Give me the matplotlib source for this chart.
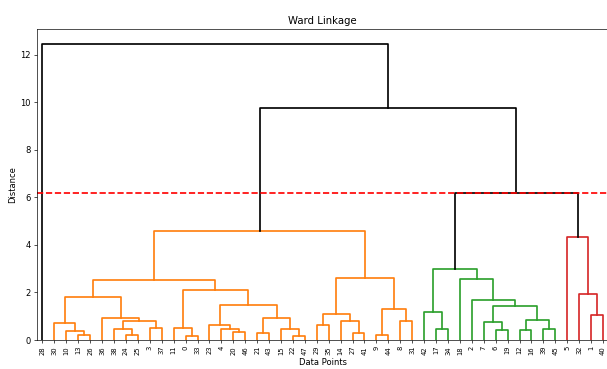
import numpy as np
import matplotlib
matplotlib.use('Agg')
import matplotlib.pyplot as plt

# Leaf labels, left to right as they appear under the dendrogram
LEAF_ORDER = [28, 30, 10, 13, 26, 36, 38, 24, 25, 3, 37, 11, 0, 33, 23, 4,
              20, 46, 21, 43, 15, 22, 47, 29, 35, 14, 27, 41, 9, 44, 8, 31,
              42, 17, 34, 18, 2, 7, 6, 19, 12, 16, 39, 45, 5, 32, 1, 40]

# Linkage table (scipy style): ids < 48 are leaves, id 48 + k is merge k
MERGE_LEFT = [0, 22, 13, 24, 9, 21, 27, 20, 10, 6, 12, 17, 39, 15, 38, 4,
              3, 11, 23, 29, 30, 7, 14, 8, 62, 58, 36, 53, 1, 67, 42, 52,
              69, 66, 2, 68, 32, 65, 83, 18, 77, 78, 5, 86, 89, 91, 28]
MERGE_RIGHT = [33, 47, 26, 25, 44, 43, 41, 46, 50, 19, 16, 34, 45, 49, 51, 55,
               37, 48, 63, 35, 56, 57, 54, 31, 64, 60, 72, 61, 40, 70, 59, 71,
               73, 75, 80, 74, 76, 81, 85, 82, 79, 87, 84, 88, 90, 92, 93]
MERGE_HEIGHT = [0.17, 0.17, 0.20, 0.21, 0.23, 0.31, 0.31, 0.35, 0.38, 0.42,
                0.42, 0.46, 0.46, 0.45, 0.48, 0.48, 0.49, 0.52, 0.63, 0.65,
                0.70, 0.74, 0.79, 0.81, 0.81, 0.86, 0.93, 0.94, 1.07, 1.11,
                1.17, 1.29, 1.43, 1.46, 1.67, 1.81, 1.92, 2.10, 2.53, 2.55,
                2.60, 2.98, 4.35, 4.59, 6.20, 9.76, 12.47]

CUT_HEIGHT = 6.2
PALETTE = ['C1', 'C2', 'C3']
ABOVE_COLOR = 'k'

n = len(LEAF_ORDER)

# x position for every node: leaves at 5, 15, 25, ... like scipy
xpos = {}
for i, leaf in enumerate(LEAF_ORDER):
    xpos[leaf] = 5 + 10 * i
ypos = {leaf: 0.0 for leaf in LEAF_ORDER}
for k in range(len(MERGE_HEIGHT)):
    a, b = MERGE_LEFT[k], MERGE_RIGHT[k]
    xpos[n + k] = (xpos[a] + xpos[b]) / 2
    ypos[n + k] = MERGE_HEIGHT[k]

# colour every link: black above the cut, one colour per cluster below it
link_color = {}
palette_iter = iter(PALETTE)


def assign(node, color):
    if node < n:
        return
    k = node - n
    if color is None and MERGE_HEIGHT[k] < CUT_HEIGHT:
        color = next(palette_iter)
    link_color[k] = color if color is not None else ABOVE_COLOR
    assign(MERGE_LEFT[k], color)
    assign(MERGE_RIGHT[k], color)


assign(n + len(MERGE_HEIGHT) - 1, None)

fig = plt.figure(figsize=(10, 369 / 60.7), dpi=60.7)
ax = fig.add_axes([36.5 / 607, 29 / 369, 572.5 / 607, 311 / 369])

for k in range(len(MERGE_HEIGHT)):
    a, b = MERGE_LEFT[k], MERGE_RIGHT[k]
    h = MERGE_HEIGHT[k]
    ax.plot([xpos[a], xpos[a], xpos[b], xpos[b]],
            [ypos[a], h, h, ypos[b]], color=link_color[k], linewidth=2.0)

ax.axhline(CUT_HEIGHT, color='r', linestyle='--', linewidth=2.0)

ax.set_xlim(0, 10 * n)
ax.set_ylim(0, 1.05 * max(MERGE_HEIGHT))
ax.set_xticks([5 + 10 * i for i in range(n)])
ax.set_xticklabels([str(v) for v in LEAF_ORDER], rotation=90, fontsize=8)

ax.set_title('Ward Linkage')
ax.set_xlabel('Data Points')
ax.set_ylabel('Distance')

fig.savefig('out.png', dpi=60.7)
